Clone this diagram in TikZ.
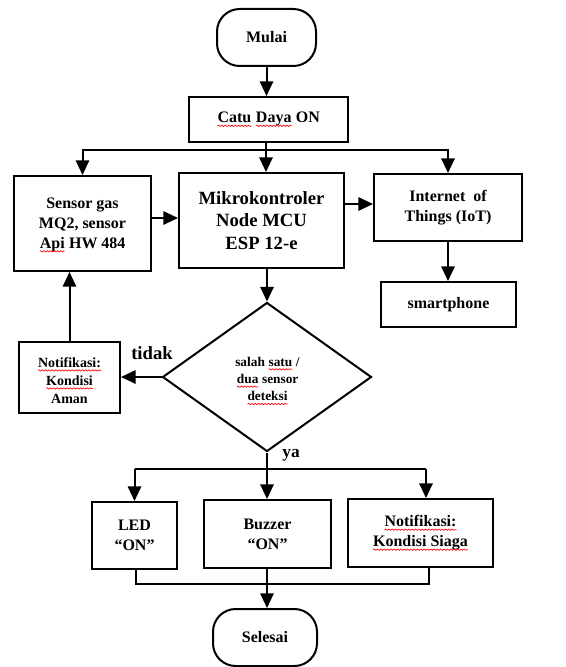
\documentclass[tikz,border=0pt]{standalone}
\usepackage{fontspec}
\setmainfont{Liberation Serif}
\usetikzlibrary{shapes.geometric,arrows.meta,calc,decorations.pathmorphing}
\newcommand\wv[1]{\tikz[baseline=(w.base)]{\node[shape=rectangle,inner sep=0pt,outer sep=0pt,draw=none,minimum width=0pt,minimum height=0pt](w){#1};\draw[red,line width=0.5pt,sharp corners,decorate,decoration={snake,amplitude=0.5pt,segment length=2.5pt}]([yshift=-2.3pt]w.base west)--([yshift=-2.3pt]w.base east);}}
\begin{document}
\begin{tikzpicture}[x=0.75pt,y=-0.75pt,
  wh/.style 2 args={minimum width=#1*0.75pt,minimum height=#2*0.75pt},
  box/.style={draw,line width=1.5pt,align=center,inner sep=1pt,font=\bfseries\fontsize{12}{15}\selectfont},
  term/.style={box,rounded corners=17pt},
  txt/.style={align=center,inner sep=0pt},
  arr/.style={line width=1.5pt,-{Triangle[width=10pt,length=11pt]}},
  ln/.style={line width=1.5pt}]
\useasboundingbox (0,0) rectangle (566,667);

\node[term,wh={99}{57}] (mulai) at (266.5,37.5) {Mulai};
\node[box,wh={159}{45}] (catu) at (268.5,119.5) {\wv{Catu} \wv{Daya} ON};
\node[box,wh={137}{95}] (sensor) at (82.5,223.5) {};
\node[txt,font=\bfseries\fontsize{12}{15}\selectfont] (sensortxt) at (82.5,225) {Sensor gas\\MQ2, sensor\\\wv{Api} HW 484};
\node[box,wh={165}{95},font=\bfseries\fontsize{14}{17}\selectfont] (mikro) at (261.5,220.5) {Mikrokontroler\\Node MCU\\ESP 12-e};
\node[box,wh={148}{67}] (iot) at (448,207.5) {Internet\ \ of\\Things (IoT)};
\node[box,wh={135}{45}] (smart) at (448.5,304.5) {smartphone};
\node[draw,diamond,line width=1.5pt,wh={209}{149},inner sep=0pt] (dia) at (267,377) {};
\node[txt,font=\bfseries\fontsize{10}{13}\selectfont] (diatxt) at (267.5,381) {salah \wv{satu} /\\\wv{dua} sensor\\\wv{deteksi}};
\node[box,wh={101}{71}] (aman) at (69.5,377.5) {};
\node[txt,font=\bfseries\fontsize{10.5}{13.5}\selectfont] (amantxt) at (69.5,380.5) {\wv{Notifikasi:}\\\wv{Kondisi}\\Aman};
\node[box,wh={85}{67}] (led) at (134.5,535.5) {LED\\“ON”};
\node[box,wh={127}{68}] (buzzer) at (267.5,534) {Buzzer\\“ON”};
\node[box,wh={145}{68}] (siaga) at (420.5,533) {\wv{Notifikasi:}\\\wv{Kondisi Siaga}};
\node[term,wh={104}{57}] (selesai) at (265,637.5) {Selesai};

\node[font=\bfseries\fontsize{14}{16}\selectfont,inner sep=0pt] (tidak) at (152,353) {tidak};
\node[font=\bfseries\fontsize{13}{15}\selectfont,inner sep=0pt] (ya) at (291,455) {ya};

\coordinate (s1) at (266,150);
\coordinate (s2) at (266,469);
\coordinate (ml) at (136,584);
\coordinate (mr) at (429,584);

\draw[arr] (mulai.south) -- (mulai.south |- catu.north);
\draw[ln] (s1 |- catu.south) -- (s1);
\draw[arr] (s1) -| (sensor.north);
\draw[arr] (s1) -| (iot.north);
\draw[arr] (s1) -- (s1 |- mikro.north);
\draw[arr] ($(sensor.east)+(0,-5.5)$) -- ($(sensor.east -| mikro.west)+(0,-5.5)$);
\draw[arr] ($(mikro.east)+(0,-16.5)$) -- ($(mikro.east -| iot.west)+(0,-16.5)$);
\draw[arr] (iot.south) -- (iot.south |- smart.north);
\draw[arr] (dia.north |- mikro.south) -- (dia.north);
\draw[arr] (dia.west) -- (dia.west -| aman.east);
\draw[arr] (aman.north) -- (aman.north |- sensor.south);
\draw[ln] (dia.south) -- (dia.south |- s2);
\draw[ln] (led.north |- s2) -- ($(siaga.north |- s2)+(5.5,0)$);
\draw[arr] (led.north |- s2) -- (led.north);
\draw[arr] (dia.south |- s2) -- (dia.south |- buzzer.north);
\draw[arr] ($(siaga.north |- s2)+(5.5,0)$) -- ($(siaga.north)+(5.5,0)$);
\draw[ln] (ml |- led.south) -- (ml) -- (mr) -- (mr |- siaga.south);
\draw[arr] (buzzer.south -| dia.south) -- (selesai.north -| dia.south);
\end{tikzpicture}
\end{document}
